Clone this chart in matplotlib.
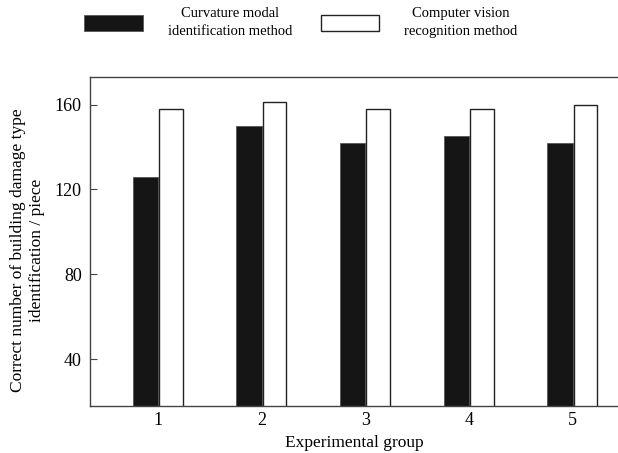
import matplotlib.pyplot as plt

plt.rcParams["font.family"] = ["Liberation Serif", "DejaVu Serif"]

groups = [1, 2, 3, 4, 5]
curvature = [126, 150, 142, 145, 142]
vision = [158, 161, 158, 158, 160]

fig = plt.figure(figsize=(6.18, 4.53), dpi=100)
ax = fig.add_axes([0.1456, 0.1038, 0.8544, 0.7272])

w = 0.245
b1 = ax.bar([g - w / 2 for g in groups], curvature, width=w, color="#151515",
            edgecolor="#555555", linewidth=0.6, label="Curvature modal\nidentification method")
b2 = ax.bar([g + w / 2 for g in groups], vision, width=0.228, color="white",
            edgecolor="#222222", linewidth=1.0, label="Computer vision\nrecognition method")

ax.set_xlim(0.344, 5.437)
ax.set_ylim(17.9, 173.2)
ax.set_yticks([40, 80, 120, 160])
ax.set_xticks(groups)
ax.tick_params(axis="y", direction="in", length=5, width=0.8, labelsize=13, pad=6, color="#444444")
ax.tick_params(axis="x", length=0, labelsize=13, pad=4)
ax.spines["right"].set_visible(False)
for s in ["left", "top", "bottom"]:
    ax.spines[s].set_color("#444444")
    ax.spines[s].set_linewidth(1.0)

ax.set_xlabel("Experimental group", fontsize=12.5, labelpad=5)
ax.set_ylabel("Correct number of building damage type\nidentification / piece", fontsize=12.5,
              linespacing=1.2)
ax.yaxis.set_label_coords(-0.086, 0.473)

leg = fig.legend(handles=[b1, b2], loc="upper center", bbox_to_anchor=(0.487, 1.0), ncol=2,
                 frameon=False, fontsize=10.5, handlelength=4.0, handleheight=1.3,
                 handletextpad=1.7, columnspacing=2.0, borderaxespad=0.1)
for t in leg.get_texts():
    t.set_multialignment("center")
    t.set_linespacing(1.45)

fig.savefig("out.png", dpi=100)
